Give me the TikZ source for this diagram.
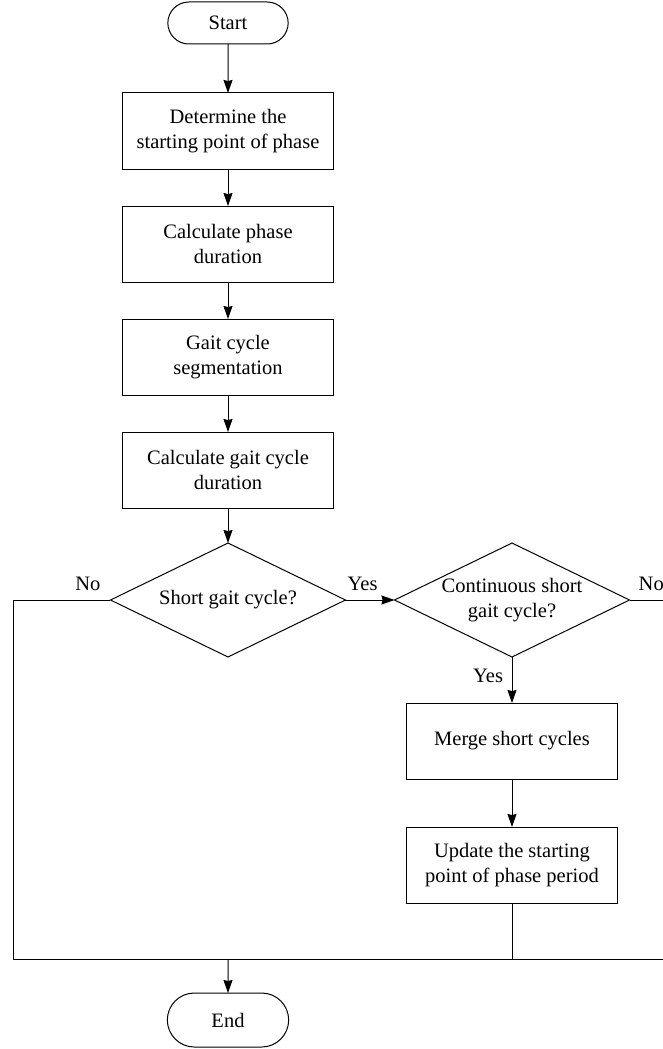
\documentclass[tikz,border=0pt]{standalone}
\usepackage{fontspec}
\setmainfont{Liberation Serif}
\usetikzlibrary{
positioning,
shapes.geometric,
shapes.misc,
arrows.meta,
}
\tikzset{
node distance=37pt,
outer sep=0pt,
every node/.style={align=center},
terminal/.style={rounded rectangle, draw, minimum width=127pt, minimum height=42pt},
process/.style={rectangle, draw, minimum width=211pt, minimum height=76pt, inner sep=2pt},
decision/.style={diamond, draw, aspect=2.06, inner sep=-10pt, minimum width=235pt, minimum height=114pt},
answer/.style={inner sep=9pt},
>={Stealth[length=13pt, width=9pt, inset=1pt]},
}
\begin{document}
\begin{tikzpicture}[x=1pt, y=1pt, line width=1pt, font=\fontsize{20.5}{25.5}\selectfont]
    \useasboundingbox (-228,23) rectangle (435,-1026);
    \clip (-228,23) rectangle (435,-1026);
    \node [terminal] (start) at (0,0) {Start};
    \node [process, below=49pt of start] (determine) {Determine the\\starting point of phase};
    \node [process, below=of determine] (phase) {Calculate phase\\duration};
    \node [process, below=of phase] (segment) {Gait cycle\\segmentation};
    \node [process, below=of segment] (cycle) {Calculate gait cycle\\duration};
    \node [decision, below=35pt of cycle] (short) {Short gait cycle?};
    \node [decision, right=49pt of short] (contin) {Continuous short\\gait cycle?};
    \node [process, below=46pt of contin] (merge) {Merge short cycles};
    \node [process, below=48pt of merge] (update) {Update the starting\\point of phase period};
    % return line
    \coordinate (join) at (0,-936);
    \coordinate (left) at (-214,-936);
    \coordinate (right) at (445,-936);
    \coordinate (rtop) at (contin.east -| right);
    \node [terminal, minimum width=128pt, minimum height=54pt, below=34pt of join] (end) {End};

    \draw [->] (start) -- (determine);
    \draw [->] (determine) -- (phase);
    \draw [->] (phase) -- (segment);
    \draw [->] (segment) -- (cycle);
    \draw [->] (cycle) -- (short);
    \draw [->] (short) -- node [answer, above, pos=0.35] {Yes} (contin);
    \draw (short.west) -| node [answer, above, pos=0.117] {No} (left) -- (right);
    \draw (contin.east) -- node [answer, above] {No} (rtop) -- (right);
    \draw [->] (contin) -- node [answer, left, yshift=4pt] {Yes} (merge);
    \draw [->] (merge) -- (update);
    \draw (update) -- (update |- join);
    \draw [->] (join) -- (end);
\end{tikzpicture}
\end{document}
